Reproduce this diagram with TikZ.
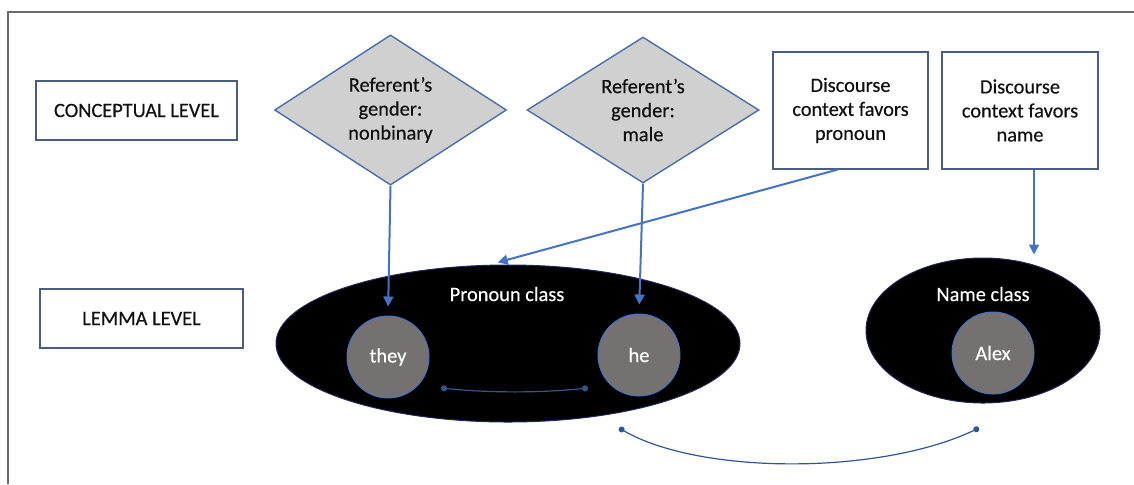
\documentclass[tikz,border=0pt]{standalone}
\usepackage{fontspec}
\setmainfont{Carlito}[FakeBold=0.35]
\usetikzlibrary{shapes.geometric,arrows.meta}
\definecolor{conn}{HTML}{4472C4}
\definecolor{bord}{HTML}{4A5E82}
\definecolor{diamb}{HTML}{4A6EA8}
\definecolor{diamf}{HTML}{D0D0D0}
\definecolor{lemf}{HTML}{767171}
\definecolor{ellb}{HTML}{1F2A5A}
\definecolor{txt}{HTML}{111111}
\definecolor{framec}{HTML}{6A6A6A}
\begin{document}
\begin{tikzpicture}[x=0.5pt,y=-0.5pt,
  font=\fontsize{10.2}{12}\selectfont,
  levelbox/.style={rectangle, draw=bord, line width=0.6pt, minimum height=29.5pt, inner sep=0pt, text=txt},
  diam/.style={diamond, draw=diamb, fill=diamf, line width=0.7pt, minimum width=116pt, minimum height=73pt, inner sep=0pt, align=center, text=txt},
  ctxbox/.style={rectangle, draw=bord, line width=0.6pt, minimum width=77.5pt, minimum height=58.5pt, inner sep=0pt, align=center, text=txt},
  cls/.style={ellipse, fill=black, draw=ellb, line width=0.5pt, inner sep=0pt},
  lem/.style={circle, fill=lemf, draw=conn, line width=0.5pt, minimum size=41pt, inner sep=0pt, text=white},
  wlbl/.style={text=white, inner sep=1pt},
  arr/.style={draw=conn, line width=1pt, -{Triangle[width=5pt,length=5pt]}},
  link/.style={draw=conn!75!black, line width=0.6pt, {Circle[length=3pt]}-{Circle[length=3pt]}}
]
\useasboundingbox (0,0) rectangle (1134,484);
\draw[framec, line width=1pt] (8,484) -- (8,12) -- (1134,12);

% level labels
\node[levelbox, minimum width=100.5pt] (conc) at (136.5,110.5) {CONCEPTUAL LEVEL};
\node[levelbox, minimum width=101.5pt] (lemma) at (141.5,318.5) {LEMMA LEVEL};

% conceptual nodes
\node[diam] (dnb) at (390.5,110) {Referent’s\\gender:\\nonbinary};
\node[diam] (dm) at (643,110) {Referent’s\\gender:\\male};
\node[ctxbox] (cpro) at (850.5,110.5) {Discourse\\context favors\\pronoun};
\node[ctxbox, minimum width=78pt] (cname) at (1020,110.5) {Discourse\\context favors\\name};

% lemma level
\node[cls, minimum width=232pt, minimum height=78.5pt] (pron) at (508,343.5) {};
\node[cls, minimum width=117pt, minimum height=72.5pt] (namec) at (983,330.5) {};
\node[wlbl] (pronl) at (507,294) {Pronoun class};
\node[wlbl] (namel) at (983,294) {Name class};
\node[lem] (they) at (388,357) {they};
\node[lem] (he) at (639,355) {he};
\node[lem] (alex) at (993,353) {Alex};

% arrows
\draw[arr, shorten >=4.5pt] (dnb.south) -- (they.north);
\draw[arr, shorten >=4.5pt] (dm.south) -- (he.north);
\draw[arr, shorten >=4pt] ([xshift=-6.5pt]cpro.south) -- ([xshift=-9pt]pron.north);
\draw[arr, shorten >=1.5pt] ([xshift=7pt]cname.south) -- ([xshift=25.5pt]namec.north);

% links
\coordinate (l1) at (441,388);
\coordinate (l2) at (588,388);
\draw[link] (l1) .. controls (490,393) and (540,393) .. (l2);
\coordinate (b1) at (619,428);
\coordinate (b2) at (979,428);
\draw[link] (b1) .. controls (700,475) and (880,475) .. (b2);
\end{tikzpicture}
\end{document}
